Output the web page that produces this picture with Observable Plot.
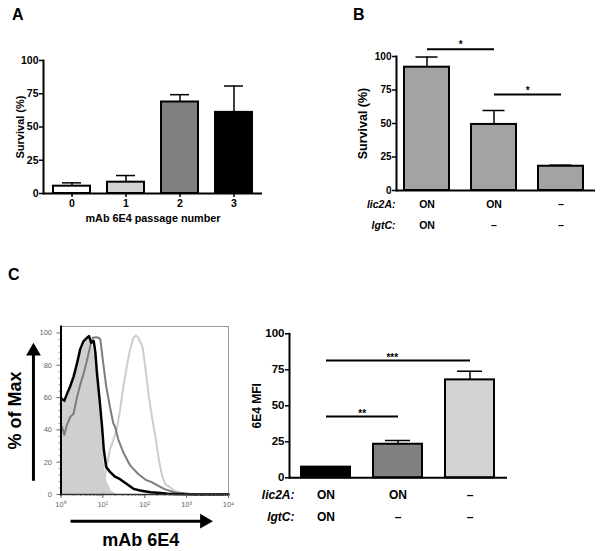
<!DOCTYPE html>
<html><head><meta charset="utf-8">
<script src="https://cdn.jsdelivr.net/npm/d3@7"></script>
<script src="https://cdn.jsdelivr.net/npm/@observablehq/plot@0.6"></script>
<style>
body{margin:0;background:#fff;}
#wrap{position:relative;width:602px;height:551px;overflow:hidden;background:#fff;font-family:"Liberation Sans",Arial,sans-serif;}
.panel{position:absolute;}
.panel svg{display:block;}
.letter{position:absolute;font:bold 16px/16px "Liberation Sans",Arial,sans-serif;}
</style></head><body>
<div id="wrap">
  <div class="letter" style="left:12px;top:6.5px">A</div>
  <div class="letter" style="left:353px;top:6.5px">B</div>
  <div class="letter" style="left:8px;top:266.5px">C</div>
  <div class="panel" id="pA" style="left:0;top:0"></div>
  <div class="panel" id="pB" style="left:300px;top:0"></div>
  <div class="panel" id="pC1" style="left:0;top:260px"></div>
  <div class="panel" id="pC2" style="left:240px;top:260px"></div>
</div>
<script>
const FONT = '"Liberation Sans", Arial, sans-serif';

// ---- Panel A: survival vs passage number
const passageNumbers = ["0", "1", "2", "3"];
const passageSurvival = [5.5, 8.5, 68.8, 61];
const passageError = [2.5, 5, 5.5, 19.8];

// ---- Panel B: survival by strain
const strainsB = ["lic2A ON / lgtC ON", "lic2A ON / lgtC –", "lic2A – / lgtC –"];
const lic2A = ["ON", "ON", "–"];
const lgtC = ["ON", "–", "–"];
const survivalB = [92, 49.3, 18.1];
const survivalBError = [7.6, 10.4, 0.8];
const sigB = [
  {from: 0, to: 1, level: 105.4, label: "*"},
  {from: 1, to: 2, level: 71.6, label: "*"}
];

// ---- Panel C (right): 6E4 MFI
const mfi = [7.4, 23.3, 68];
const mfiError = [0, 2.6, 6];
const sigC = [
  {from: 0, to: 2, level: 81.5, label: "***"},
  {from: 0, to: 1, level: 42.6, label: "**"}
];

// ---- Panel C (left): flow cytometry histograms [fluorescence, % of max]
const isotypeFill = [[1,56],[1.38,58],[2,70],[2.88,86],[3.98,95],[4.68,97],[5.5,93],[6.92,83],[7.94,63],[9.12,42],[10.5,21.5],[12,9],[16.2,2],[22.4,0]];
const lightCurve = [[9.5,0],[10,2],[11.5,13],[14.8,28],[17.8,34],[21.4,40],[25.7,52],[30.9,67],[37.2,79],[44.7,90],[53.7,97],[61.7,98.5],[70.8,97],[89.1,91],[105,77],[126,60],[151,47],[182,35],[219,21],[263,11],[316,6],[380,5],[501,2.5],[603,1.2],[1000,0.3],[2000,0],[10000,0]];
const darkCurve = [[1,42],[1.05,42],[1.2,37],[1.38,43],[1.66,48],[2,50],[2.4,60],[2.88,68],[3.47,75],[4.17,83],[5.01,92],[5.75,97],[6.92,97.4],[7.94,97],[8.71,96],[10,83],[12,67],[14.8,54],[17.8,44],[19.5,42],[23.4,34],[30.9,26],[44.7,18],[70.8,12.5],[107,9],[138,8],[288,3.5],[501,1.4],[871,0.8],[1585,0],[10000,0]];
const blackCurve = [[1,60],[1.05,59],[1.2,58],[1.38,62],[1.66,67],[2,73],[2.4,81],[2.88,90],[3.47,95],[4.17,97],[4.68,98],[5.25,94],[6.03,95],[6.61,88],[7.24,75],[8.32,59],[9.55,42],[10.5,28],[12,17],[14.8,14],[19.5,11],[25.7,9.5],[37.2,6.5],[53.7,3.5],[77.6,2.5],[107,1.9],[138,1.4],[240,1],[347,0.5],[490,0.3],[871,0.1],[10000,0]];
const histMajorX = [1, 10, 100, 1000, 10000];
const histMajorXLabels = ["10⁰", "10¹", "10²", "10³", "10⁴"];
const histMajorY = [0, 20, 40, 60, 80, 100];
// axis arrows (shaft end points and arrowhead centres, in data units)
const axisArrowShafts = [
  {x1: 0.22, y1: 8.5, x2: 0.22, y2: 88.7},
  {x1: 1.69, y1: -16.5, x2: 2660, y2: -16.5}
];
const axisArrowHeads = [
  {x: 0.22, y: 88.7, angle: 0},
  {x: 2660, y: -16.5, angle: 90}
];

// minor ticks
const histMinorX = [];
for (const d of [1, 10, 100, 1000]) for (let k = 2; k <= 9; k++) histMinorX.push(d * k);
const histMinorY = [];
for (let v = 0; v <= 100; v += 4) if (v % 20) histMinorY.push(v);

const baseStyle = (size) => ({fontFamily: FONT, fontSize: size + "px", fontWeight: "bold", color: "#000", background: "transparent", overflow: "visible"});

// band step helper (pixels per category) for placing bracket labels mid-way
const bandStep = (span, n, pi, po) => span / (n - pi + 2 * po);

// ---------- Panel A
const tableA = passageNumbers.map((p, i) => ({p, v: passageSurvival[i], e: passageError[i]}));
const plotA = Plot.plot({
  width: 300, height: 230,
  marginLeft: 43, marginRight: 38, marginTop: 60, marginBottom: 37,
  style: baseStyle(10.5),
  x: {domain: passageNumbers, paddingInner: 0.315, paddingOuter: 0.185, label: null},
  y: {domain: [0, 100], label: null},
  color: {type: "ordinal", domain: passageNumbers, range: ["#ffffff", "#d3d3d3", "#808080", "#000000"]},
  marks: [
    Plot.ruleX(tableA, {x: "p", y1: "v", y2: d => d.v + d.e, strokeWidth: 1.5}),
    Plot.tickY(tableA, {x: "p", y: d => d.v + d.e, insetLeft: 9, insetRight: 9, strokeWidth: 1.5}),
    Plot.barY(tableA, {x: "p", y: "v", fill: "p", stroke: "#000", strokeWidth: 2}),
    Plot.axisY({ticks: [0, 25, 50, 75, 100], tickSize: 4, tickPadding: 1, strokeWidth: 1.5, label: null}),
    Plot.axisX({tickSize: 4, tickPadding: 2, strokeWidth: 1.5, label: null}),
    Plot.frame({anchor: "left", strokeWidth: 2}),
    Plot.ruleY([0], {strokeWidth: 2}),
    Plot.text(["Survival (%)"], {text: d => d, frameAnchor: "left", textAnchor: "middle", lineAnchor: "middle", dx: -23, rotate: -90, fontSize: 11}),
    Plot.text(["mAb 6E4 passage number"], {text: d => d, frameAnchor: "bottom", lineAnchor: "middle", dy: 25, fontSize: 10.8})
  ]
});
document.getElementById("pA").append(plotA);

// ---------- Panel B
const stepB = bandStep(199, 3, 0.333, 0.14);
const tableB = strainsB.map((s, i) => ({s, v: survivalB[i], e: survivalBError[i], lic: lic2A[i], lgt: lgtC[i]}));
const linksB = sigB.map(d => ({x1: strainsB[d.from], x2: strainsB[d.to], y: d.level, label: d.label, span: d.to - d.from}));
const plotB = Plot.plot({
  width: 302, height: 240,
  marginLeft: 96, marginRight: 7, marginTop: 56, marginBottom: 50,
  style: baseStyle(10),
  x: {domain: strainsB, paddingInner: 0.333, paddingOuter: 0.14, align: 0.37, axis: null},
  y: {domain: [0, 100], label: null},
  marks: [
    Plot.ruleX(tableB, {x: "s", y1: "v", y2: d => d.v + d.e, strokeWidth: 1.5}),
    Plot.tickY(tableB, {x: "s", y: d => d.v + d.e, insetLeft: 11.5, insetRight: 11.5, strokeWidth: 1.5}),
    Plot.barY(tableB, {x: "s", y: "v", fill: "#a3a3a3", stroke: "#000", strokeWidth: 2}),
    Plot.axisY({ticks: [0, 25, 50, 75, 100], tickSize: 4, tickPadding: 1, strokeWidth: 1.5, label: null}),
    Plot.frame({anchor: "left", strokeWidth: 2}),
    Plot.ruleY([0], {strokeWidth: 2}),
    Plot.link(linksB, {x1: "x1", x2: "x2", y1: "y", y2: "y", strokeWidth: 2}),
    ...linksB.map(d => Plot.text([d], {x: "x1", y: "y", text: "label", dx: d.span * stepB / 2, dy: -4, fontSize: 10, fill: "#000"})),
    Plot.text(tableB, {x: "s", text: "lic", frameAnchor: "bottom", lineAnchor: "middle", dy: 14, fontSize: 10.5}),
    Plot.text(tableB, {x: "s", text: "lgt", frameAnchor: "bottom", lineAnchor: "middle", dy: 35, fontSize: 10.5}),
    Plot.text(["lic2A:"], {text: d => d, frameAnchor: "bottom-left", lineAnchor: "middle", dx: -1, dy: 14, textAnchor: "end", fontStyle: "italic", fontSize: 10.5}),
    Plot.text(["lgtC:"], {text: d => d, frameAnchor: "bottom-left", lineAnchor: "middle", dx: -1, dy: 35, textAnchor: "end", fontStyle: "italic", fontSize: 10.5}),
    Plot.text(["Survival (%)"], {text: d => d, frameAnchor: "left", textAnchor: "middle", lineAnchor: "middle", dx: -34, rotate: -90, fontSize: 12.5})
  ]
});
document.getElementById("pB").append(plotB);

// ---------- Panel C left: histogram
const toXY = arr => arr.map(([x, y]) => ({x, y}));
const plotC1 = Plot.plot({
  width: 300, height: 291,
  marginLeft: 60.5, marginRight: 72, marginTop: 66, marginBottom: 57,
  style: {fontFamily: FONT, fontSize: "7.5px", color: "#000", background: "transparent", overflow: "visible"},
  x: {type: "log", domain: [1, 10000], label: null},
  y: {domain: [0, 104], label: null},
  marks: [
    Plot.frame({stroke: "#9a9a9a", strokeWidth: 1}),
    Plot.areaY(toXY(isotypeFill), {x: "x", y: "y", fill: "#cfcfcf"}),
    Plot.lineY(toXY(lightCurve), {x: "x", y: "y", stroke: "#cdcdcd", strokeWidth: 2}),
    Plot.lineY(toXY(darkCurve), {x: "x", y: "y", stroke: "#7d7d7d", strokeWidth: 2}),
    Plot.lineY(toXY(blackCurve), {x: "x", y: "y", stroke: "#000", strokeWidth: 2.5}),
    Plot.axisY({ticks: histMajorY, tickSize: 4, tickPadding: 5, color: "#666", label: null}),
    Plot.axisY({ticks: histMinorY, tickSize: 2, tickFormat: () => "", color: "#999", label: null}),
    Plot.axisX({ticks: histMajorX, tickFormat: d => histMajorXLabels[histMajorX.indexOf(d)], tickSize: 4, tickPadding: 3, color: "#666", label: null}),
    Plot.axisX({ticks: histMinorX, tickSize: 2, tickFormat: () => "", color: "#999", label: null}),
    Plot.frame({anchor: "left", strokeWidth: 2}),
    Plot.ruleY([0], {stroke: "#333", strokeWidth: 1.5}),
    Plot.link(axisArrowShafts, {x1: "x1", y1: "y1", x2: "x2", y2: "y2", strokeWidth: 3}),
    Plot.dot(axisArrowHeads, {x: "x", y: "y", symbol: "triangle", r: 5.5, fill: "#000", rotate: "angle"}),
    Plot.text(["% of Max"], {text: d => d, frameAnchor: "left", textAnchor: "middle", lineAnchor: "middle", dx: -45.5, rotate: -90, fontSize: 18, fontWeight: "bold"}),
    Plot.text(["mAb 6E4"], {text: d => d, frameAnchor: "bottom", lineAnchor: "middle", dx: -4, dy: 46, fontSize: 18, fontWeight: "bold"})
  ]
});
document.getElementById("pC1").append(plotC1);

// ---------- Panel C right: MFI bars
const strainsC = strainsB;
const stepC = bandStep(218, 3, 0.315, 0.165);
const tableC = strainsC.map((s, i) => ({s, v: mfi[i], e: mfiError[i], lic: lic2A[i], lgt: lgtC[i]}));
const linksC = sigC.map(d => ({x1: strainsC[d.from], x2: strainsC[d.to], y: d.level, label: d.label, span: d.to - d.from}));
const plotC2 = Plot.plot({
  width: 362, height: 291,
  marginLeft: 49, marginRight: 95, marginTop: 73.3, marginBottom: 73.7,
  style: baseStyle(11.5),
  x: {domain: strainsC, paddingInner: 0.315, paddingOuter: 0.165, axis: null},
  y: {domain: [0, 100], label: null},
  color: {type: "ordinal", domain: strainsC, range: ["#000000", "#808080", "#d3d3d3"]},
  marks: [
    Plot.ruleX(tableC.filter(d => d.e > 0), {x: "s", y1: "v", y2: d => d.v + d.e, strokeWidth: 1.5}),
    Plot.tickY(tableC.filter(d => d.e > 0), {x: "s", y: d => d.v + d.e, insetLeft: 12, insetRight: 12, strokeWidth: 1.5}),
    Plot.barY(tableC, {x: "s", y: "v", fill: "s", stroke: "#000", strokeWidth: 2}),
    Plot.axisY({ticks: [0, 25, 50, 75, 100], tickSize: 4, tickPadding: 1, strokeWidth: 1.5, label: null}),
    Plot.frame({anchor: "left", strokeWidth: 2}),
    Plot.ruleY([0], {strokeWidth: 2}),
    Plot.link(linksC, {x1: "x1", x2: "x2", y1: "y", y2: "y", strokeWidth: 2}),
    ...linksC.map(d => Plot.text([d], {x: "x1", y: "y", text: "label", dx: d.span * stepC / 2 - (d.span > 1 ? 6 : 0), dy: -3, fontSize: 10, fill: "#000"})),
    Plot.text(tableC, {x: "s", text: "lic", frameAnchor: "bottom", lineAnchor: "middle", dy: 17, fontSize: 12}),
    Plot.text(tableC, {x: "s", text: "lgt", frameAnchor: "bottom", lineAnchor: "middle", dy: 39, fontSize: 12}),
    Plot.text(["lic2A:"], {text: d => d, frameAnchor: "bottom-left", lineAnchor: "middle", dx: 5, dy: 17, textAnchor: "end", fontStyle: "italic", fontSize: 12}),
    Plot.text(["lgtC:"], {text: d => d, frameAnchor: "bottom-left", lineAnchor: "middle", dx: 5, dy: 39, textAnchor: "end", fontStyle: "italic", fontSize: 12}),
    Plot.text(["6E4 MFI"], {text: d => d, frameAnchor: "left", textAnchor: "middle", lineAnchor: "middle", dx: -32, rotate: -90, fontSize: 12})
  ]
});
document.getElementById("pC2").append(plotC2);
</script>
</body></html>
